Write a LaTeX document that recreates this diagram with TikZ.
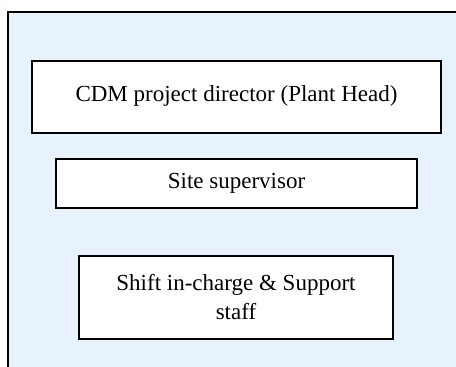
\documentclass[tikz,border=0pt]{standalone}
\usepackage{fontspec}
\setmainfont{Liberation Serif}
\definecolor{panelblue}{RGB}{232,242,252}
\begin{document}
\begin{tikzpicture}[x=1pt,y=-1pt,
  box/.style={draw=black,line width=2pt,fill=white,inner sep=0pt,align=center,
    font=\fontsize{23}{29}\selectfont}]
\useasboundingbox (0,0) rectangle (456,367);
\fill[panelblue] (8,12) rectangle (460,372);
\draw[line width=2.2pt] (8,372) -- (8,12) -- (460,12);
\node[box,minimum width=409pt,minimum height=72pt] (director) at (236.5,97)
  {\raisebox{7pt}{CDM project director (Plant Head)}};
\node[box,minimum width=361pt,minimum height=49pt] (supervisor) at (236.5,183.5)
  {Site supervisor};
\node[box,minimum width=314pt,minimum height=83pt] (shift) at (236,297.5)
  {Shift in-charge \& Support\\staff};
\end{tikzpicture}
\end{document}
